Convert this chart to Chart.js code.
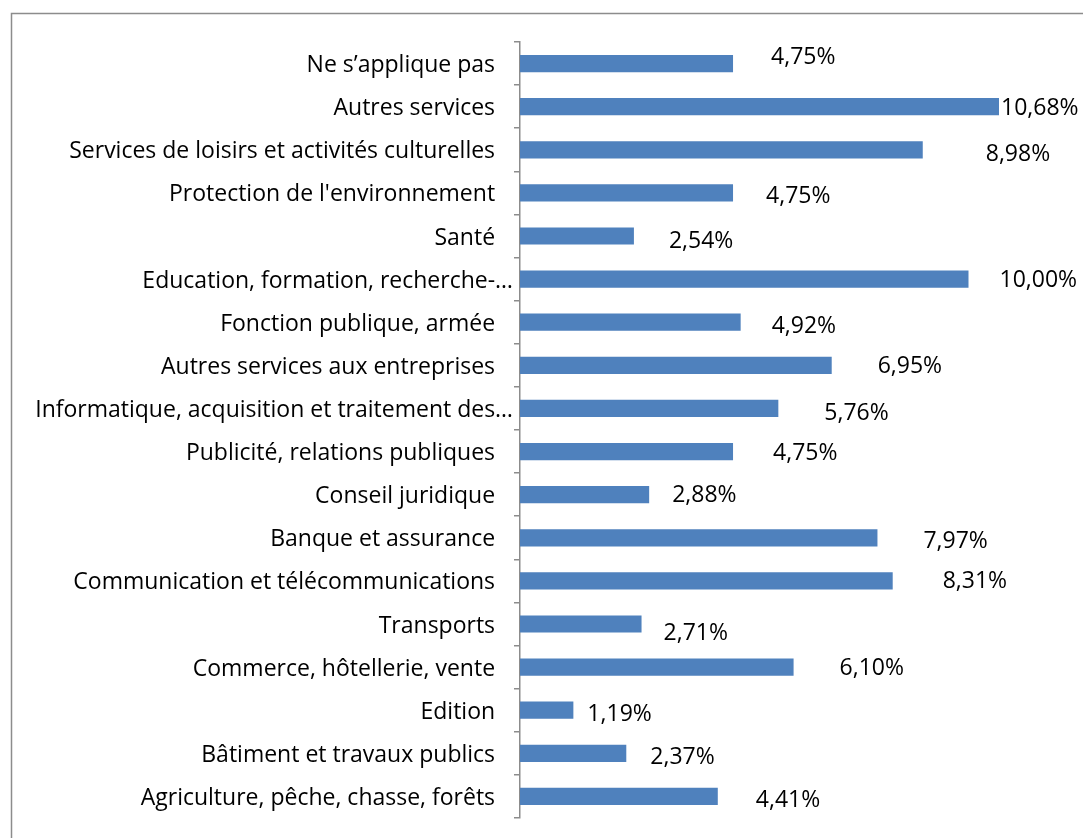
<!DOCTYPE html>
<html>
<head>
<meta charset="utf-8">
<script src="https://cdn.jsdelivr.net/npm/chart.js@4.4.1/dist/chart.umd.min.js"></script>
<style>
  html, body { margin: 0; padding: 0; background: #fff; overflow: hidden; }
  #wrap { position: relative; width: 1083px; height: 838px; }
</style>
</head>
<body>
<div id="wrap"><canvas id="chart" width="1083" height="838"></canvas></div>
<script>
// categories, top to bottom as in the picture
const categories = [
  "Ne s’applique pas",
  "Autres services",
  "Services de loisirs et activités culturelles",
  "Protection de l'environnement",
  "Santé",
  "Education, formation, recherche-…",
  "Fonction publique, armée",
  "Autres services aux entreprises",
  "Informatique, acquisition et traitement des…",
  "Publicité, relations publiques",
  "Conseil juridique",
  "Banque et assurance",
  "Communication et télécommunications",
  "Transports",
  "Commerce, hôtellerie, vente",
  "Edition",
  "Bâtiment et travaux publics",
  "Agriculture, pêche, chasse, forêts"
];
const shares = [4.75, 10.68, 8.98, 4.75, 2.54, 10.00, 4.92, 6.95, 5.76, 4.75, 2.88, 7.97, 8.31, 2.71, 6.10, 1.19, 2.37, 4.41];

// where each value label sits, relative to the end of its bar (px)
const labelDx = [38, 2, 63, 33, 35, 31, 31, 46, 46, 40, 23, 46, 50, 22, 46, 14, 24, 38];
const labelDy = [-8, 0, 3, 2, 3, -1, 2, -1, 3, 0, -1, 2, -1, 7, -1, 2, 2, 2];

const FONT = "'Open Sans', Lato, sans-serif";

const frame = {
  id: 'frame',
  beforeDraw(chart) {
    const c = chart.ctx;
    c.save();
    c.strokeStyle = '#8c8c8c';
    c.lineWidth = 1.5;
    c.strokeRect(11.5, 13.5, 1200, 1000);
    c.restore();
  }
};

const valueLabels = {
  id: 'valueLabels',
  afterDatasetsDraw(chart) {
    const c = chart.ctx;
    const meta = chart.getDatasetMeta(0);
    c.save();
    c.font = '23px ' + FONT;
    c.fillStyle = '#000';
    c.textAlign = 'left';
    c.textBaseline = 'middle';
    meta.data.forEach((bar, i) => {
      const txt = shares[i].toFixed(2).replace('.', ',') + '%';
      c.fillText(txt, bar.x + labelDx[i], bar.y + labelDy[i] + 2);
    });
    c.restore();
  }
};

new Chart(document.getElementById('chart'), {
  type: 'bar',
  data: {
    labels: categories,
    datasets: [{
      data: shares,
      backgroundColor: '#4F81BD',
      borderWidth: 0,
      barPercentage: 0.4,
      categoryPercentage: 1
    }]
  },
  options: {
    indexAxis: 'y',
    responsive: false,
    animation: false,
    layout: { padding: { top: 42, bottom: 20, right: 84, left: 0 } },
    plugins: { legend: { display: false }, tooltip: { enabled: false } },
    scales: {
      x: { display: false, min: 0, max: 10.68 },
      y: {
        afterFit(scale) { scale.width = 520; },
        grid: {
          offset: true,
          drawOnChartArea: false,
          tickLength: 6,
          color: '#8c8c8c',
          lineWidth: 1.5
        },
        border: { color: '#8c8c8c', width: 1.5 },
        ticks: {
          color: '#000',
          padding: 1,
          labelOffset: 2,
          autoSkip: false,
          font: { family: FONT, size: 23 },
          // Excel leaves a gap after the full names, none after the cut ones
          callback(v, i) {
            const s = categories[i];
            return s.endsWith('…') ? s : s + '   ';
          }
        }
      }
    }
  },
  plugins: [frame, valueLabels]
});
</script>
</body>
</html>
